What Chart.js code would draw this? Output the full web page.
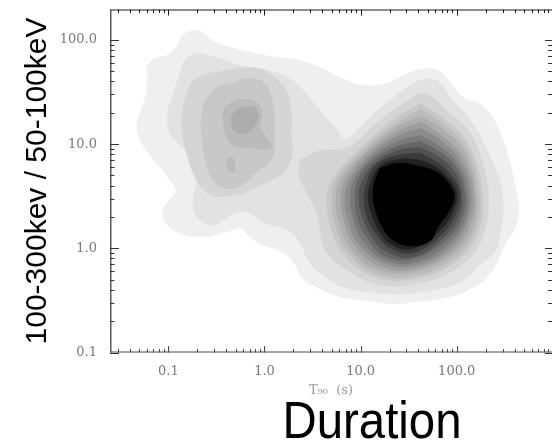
<!DOCTYPE html>
<html>
<head>
<meta charset="utf-8">
<script src="https://cdn.jsdelivr.net/npm/chart.js@4.4.1/dist/chart.umd.min.js"></script>
<style>
html,body{margin:0;padding:0;background:#fff;overflow:hidden}
canvas{display:block}
</style>
</head>
<body>
<canvas id="c" width="552" height="445"></canvas>
<script>
// ---------- axis data ----------
const T90_TICKS = [0.1, 1, 10, 100];
const T90_TICK_LABELS = ['0.1', '1.0', '10.0', '100.0'];
const RATIO_TICKS = [0.1, 1, 10, 100];
const RATIO_TICK_LABELS = ['0.1', '1.0', '10.0', '100.0'];
const T90_RANGE = [0.0247, 980];
const RATIO_RANGE = [0.1, 196];
const X_TITLE = 'T\u2089\u2080  (s)';
const Y_TITLE = '100-300kev / 50-100keV';
const FOOTER = 'Duration';

// ---------- density contours: [T90 (s), hardness ratio] ----------
const density_L1 = [[0.060,56.6],[0.0727,66],[0.0993,72.1],[0.123,87.8],[0.139,109],[0.177,122],[0.230,117],[0.292,95.9],[0.494,82.2],[1.06,70.5],[2.35,63.1],[3.98,53.0],[6.42,42.5],[11.1,36.4],[18.9,38.1],[30.5,47.5],[49.2,53.0],[67.2,49.6],[85.4,38.9],[117,28.0],[175,24.0],[228,18.8],[283,12.7],[335,8.17],[386,4.82],[436,2.60],[415,1.68],[319,1.08],[263,0.743],[207,0.534],[145,0.420],[85.4,0.344],[38.7,0.308],[21.8,0.295],[11.7,0.315],[6.12,0.344],[3.61,0.420],[2.46,0.523],[2.03,0.727],[1.45,0.946],[0.944,1.08],[0.708,1.29],[0.557,1.57],[0.408,1.44],[0.214,1.29],[0.117,1.47],[0.088,2.0],[0.0946,2.66],[0.120,3.54],[0.090,5.38],[0.066,7.65],[0.0507,11.1],[0.0472,15.8],[0.0532,22.0],[0.060,34.1]];
const density_L2 = [[0.199,75.3],[0.344,66.0],[0.628,55.3],[1.14,50.7],[1.85,42.5],[2.65,31.2],[3.79,20.8],[5.43,14.6],[6.90,11.2],[9.88,14.6],[14.9,21.0],[22.9,28.6],[35.2,38.1],[50.4,42.5],[67.2,38.9],[85.4,28.0],[119,20.4],[163,13.5],[217,7.82],[283,4.22],[304,2.33],[283,1.44],[257,0.968],[175,0.696],[119,0.50],[67.2,0.41],[25.8,0.368],[11.7,0.384],[6.12,0.438],[3.98,0.558],[2.84,0.777],[2.35,1.13],[1.72,1.50],[0.944,1.79],[0.669,2.23],[0.478,2.18],[0.292,1.68],[0.199,2.0],[0.181,2.90],[0.199,4.82],[0.157,8.17],[0.104,12.7],[0.0993,21.0],[0.112,29.2],[0.132,47.5],[0.153,66.0]];
// short-burst group
const short_L3 = [[0.160,32.6],[0.181,40.7],[0.241,46.4],[0.389,50.7],[0.628,54.1],[0.944,51.8],[1.29,43.5],[1.68,32.6],[1.89,21.0],[1.89,12.7],[1.94,8.17],[1.72,5.87],[1.29,4.72],[0.90,4.04],[0.628,3.46],[0.418,3.17],[0.285,3.24],[0.214,4.04],[0.176,5.62],[0.153,8.73],[0.139,13.5],[0.142,22.0]];
const short_L4 = [[0.241,26.2],[0.306,34.1],[0.460,38.9],[0.708,42.5],[0.990,38.9],[1.17,29.2],[1.26,18.8],[1.26,12.1],[1.26,8.35],[1.09,6.56],[0.858,5.62],[0.675,4.51],[0.494,3.78],[0.345,3.95],[0.272,5.04],[0.241,7.32],[0.224,11.4],[0.219,17.6]];
const short_L5 = [[0.380,22.5],[0.483,25.6],[0.659,26.8],[0.858,24.5],[0.944,19.7],[0.900,14.8],[1.04,11.6],[1.20,9.74],[1.09,8.92],[0.798,9.12],[0.557,9.32],[0.439,10.2],[0.389,13.0],[0.371,17.6]];
const short_L5_spot = [[0.418,7.48],[0.471,7.32],[0.494,6.14],[0.471,5.26],[0.428,5.62],[0.399,6.70]];
const short_L6 = [[0.449,18.0],[0.506,21.0],[0.628,22.5],[0.779,22.5],[0.858,19.7],[0.818,15.8],[0.691,13.3],[0.557,12.7],[0.471,14.2]];
// long-burst group
const long_L3 = [[2.35,7.00],[3.61,8.54],[6.12,8.91],[8.16,9.74],[12.6,14.1],[20.3,20.1],[32.7,26.8],[43.6,30.6],[58.2,27.4],[79.5,20.6],[108.5,16.5],[145,11.9],[179,7.31],[207,4.22],[212,2.44],[193,1.44],[155,0.926],[108.5,0.680],[67.2,0.534],[36.9,0.458],[21.3,0.438],[12.0,0.479],[7.78,0.596],[5.43,0.743],[4.17,1.01],[3.79,1.50],[3.45,2.28],[2.78,3.39],[2.29,5.04]];
const long_L4 = [[42.6,24.5],[74,17.3],[128,10.4],[179,4.04],[171,1.50],[101,0.76],[36,0.511],[13.2,0.546],[6.58,0.886],[4.93,1.57],[4.48,3.04],[5.18,4.71],[9.42,8.73],[22.8,17.6]];
const long_L5 = [[42.6,21.5],[72.2,15.5],[122,9.52],[167,3.95],[159,1.60],[96.2,0.811],[36,0.546],[13.8,0.583],[7.24,0.946],[5.56,1.60],[5.05,3.04],[5.7,4.71],[9.88,8.35],[23.4,15.8]];
const long_L6 = [[42.6,18.4],[70.5,13.9],[117,8.73],[155,3.87],[148,1.64],[91.8,0.886],[36,0.596],[14.5,0.637],[7.96,0.989],[6.12,1.68],[5.56,3.04],[6.27,4.61],[10.6,7.99],[23.4,14.5]];
const long_L7 = [[42.6,16.2],[68.8,12.1],[108.5,7.99],[148,3.87],[138,1.75],[87.4,0.946],[35.2,0.637],[15.6,0.68],[8.76,1.06],[6.9,1.71],[6.27,3.04],[7.07,4.61],[11.1,7.82],[24,13.0]];
const long_L8 = [[42.6,14.2],[67.2,10.9],[103,7.32],[138,3.78],[128,1.83],[83.4,1.01],[35.2,0.68],[16.3,0.743],[9.65,1.1],[7.59,1.79],[6.9,3.04],[7.78,4.51],[12,7.48],[24,11.9]];
const long_L9 = [[41.6,12.1],[64.1,9.74],[98.6,6.7],[128,3.7],[122,1.91],[79.5,1.08],[35.2,0.727],[17.1,0.794],[10.6,1.18],[8.56,1.83],[7.78,3.04],[8.56,4.51],[12.6,7.16],[24.5,10.6]];
const long_L10 = [[41.6,10.6],[62.5,8.73],[94,6.28],[120,3.62],[114,2.0],[75.7,1.18],[35.2,0.794],[18,0.848],[11.7,1.26],[9.42,1.87],[8.76,3.04],[9.42,4.51],[13.2,6.85],[24.5,9.52]];
const long_L11 = [[41.6,9.32],[61,7.82],[89.6,5.75],[111,3.54],[106,2.09],[72.2,1.26],[35.2,0.829],[18.9,0.926],[12.9,1.32],[10.6,1.96],[9.65,3.04],[10.4,4.41],[14.2,6.56],[25.2,8.73]];
const long_L12 = [[41.6,8.17],[59.6,6.85],[83.4,5.26],[106,3.54],[98.6,2.23],[68.8,1.35],[34.3,0.906],[20.3,1.01],[14.2,1.41],[11.7,2.0],[10.9,3.04],[11.7,4.41],[14.8,6.42],[25.2,7.82]];
const long_L13 = [[41.6,7.0],[58.2,6.14],[79.5,4.82],[98.6,3.47],[91.8,2.33],[65.6,1.47],[34.3,0.989],[21.3,1.08],[15.6,1.47],[13.2,2.09],[12,3.04],[12.9,4.32],[16,6.14],[25.8,7.16]];
const long_core = [[16,5.87],[24.5,6.56],[39.7,6.14],[62.5,5.38],[83.4,4.13],[94,3.04],[79.5,2.14],[62.5,1.57],[52.9,1.18],[34.3,1.056],[22.3,1.18],[17.1,1.57],[14.5,2.23],[13.5,3.24],[14.2,4.51]];

// contour level of each polygon (1 = outermost)
const LAYERS = [
  [1, density_L1], [2, density_L2],
  [3, short_L3], [3, long_L3],
  [4, short_L4], [4, long_L4],
  [5, short_L5], [5, short_L5_spot], [5, long_L5],
  [6, short_L6], [6, long_L6],
  [7, long_L7], [8, long_L8], [9, long_L9], [10, long_L10],
  [11, long_L11], [12, long_L12], [13, long_L13], [14, long_core]
];

// ---------- styles ----------
const SHADES = {1:'#efefef',2:'#e2e2e2',3:'#d5d5d5',4:'#c8c8c8',5:'#bbbbbb',6:'#adadad',7:'#9d9d9d',8:'#8c8c8c',9:'#7a7a7a',10:'#666666',11:'#515151',12:'#3a3a3a',13:'#212121',14:'#000000'};

const datasets = LAYERS.map(([lvl, pts], i) => ({
  label: 'level ' + lvl,
  data: pts.concat([pts[0]]).map(([x, y]) => ({x, y})),
  showLine: true,
  fill: 'shape',
  backgroundColor: SHADES[lvl],
  borderColor: SHADES[lvl],
  borderWidth: 0.8,
  pointRadius: 0,
  tension: 0.4,
  order: LAYERS.length - i
}));

function minorTicks(lo, hi) {
  const out = [];
  for (let d = 0.01; d <= 1000; d *= 10) {
    for (let m = 1; m < 10; m++) {
      const v = +(m * d).toPrecision(3);
      if (v >= lo && v <= hi) out.push(v);
    }
  }
  return out;
}

const framePlugin = {
  id: 'frame',
  afterDatasetsDraw(chart) {
    const {ctx, chartArea: a, scales: {x, y}} = chart;
    ctx.save();
    const xt = minorTicks(T90_RANGE[0], T90_RANGE[1]);
    const yt = minorTicks(RATIO_RANGE[0], RATIO_RANGE[1]);
    const isMajor = v => Math.abs(Math.log10(v) - Math.round(Math.log10(v))) < 1e-6;
    // top axis
    ctx.strokeStyle = '#1a1a1a'; ctx.lineWidth = 1;
    ctx.beginPath(); ctx.moveTo(a.left, a.top + 0.5); ctx.lineTo(a.right, a.top + 0.5); ctx.stroke();
    ctx.beginPath();
    xt.forEach(v => { const px = Math.round(x.getPixelForValue(v)) + 0.5; const l = isMajor(v) ? 6 : 3.5; ctx.moveTo(px, a.top); ctx.lineTo(px, a.top + l); });
    ctx.stroke();
    // bottom axis
    ctx.strokeStyle = '#4a4a4a';
    ctx.beginPath(); ctx.moveTo(a.left, a.bottom - 0.5); ctx.lineTo(a.right, a.bottom - 0.5); ctx.stroke();
    ctx.beginPath();
    xt.forEach(v => { const px = Math.round(x.getPixelForValue(v)) + 0.5; const l = isMajor(v) ? 6.5 : 3.5; ctx.moveTo(px, a.bottom); ctx.lineTo(px, a.bottom - l); });
    ctx.stroke();
    // left axis
    ctx.strokeStyle = '#5a5a5a'; ctx.lineWidth = 1.5;
    ctx.beginPath(); ctx.moveTo(a.left + 0.75, a.top); ctx.lineTo(a.left + 0.75, a.bottom); ctx.stroke();
    ctx.lineWidth = 1; ctx.strokeStyle = '#333';
    ctx.beginPath();
    yt.forEach(v => { const py = Math.round(y.getPixelForValue(v)) + 0.5; const l = isMajor(v) ? 9 : 4.5; ctx.moveTo(a.left, py); ctx.lineTo(a.left + l, py); });
    ctx.stroke();
    // right axis ticks
    ctx.strokeStyle = '#333';
    ctx.beginPath();
    yt.forEach(v => { const py = Math.round(y.getPixelForValue(v)) + 0.5; const l = isMajor(v) ? 7 : 4; ctx.moveTo(a.right, py); ctx.lineTo(a.right - l, py); });
    ctx.stroke();
    ctx.restore();
  },
  afterDraw(chart) {
    const ctx = chart.ctx;
    ctx.save();
    ctx.font = '52px "Liberation Sans", Arial, sans-serif';
    ctx.fillStyle = '#000';
    ctx.textAlign = 'center';
    ctx.textBaseline = 'alphabetic';
    const w = ctx.measureText(FOOTER).width;
    ctx.translate(372, 438);
    ctx.scale(179 / w, 1);
    ctx.fillText(FOOTER, 0, 0);
    ctx.restore();
  }
};

function clearPad(s) { s.paddingTop = 0; s.paddingBottom = 0; s.paddingLeft = 0; s.paddingRight = 0; }

new Chart(document.getElementById('c'), {
  type: 'scatter',
  data: {datasets},
  plugins: [framePlugin],
  options: {
    responsive: false,
    animation: false,
    events: [],
    layout: {padding: {top: 9.5, right: 0, left: 0, bottom: 0}},
    plugins: {legend: {display: false}, tooltip: {enabled: false}},
    scales: {
      x: {
        type: 'logarithmic', position: 'bottom',
        min: T90_RANGE[0], max: T90_RANGE[1],
        grid: {display: false, drawTicks: false}, border: {display: false},
        afterBuildTicks: s => { s.ticks = T90_TICKS.map(v => ({value: v})); },
        afterFit: s => { s.height = 92.5; clearPad(s); },
        ticks: {
          autoSkip: false, maxRotation: 0, padding: 11,
          color: '#7a7a7a', font: {family: '"DejaVu Serif"', size: 13},
          callback: v => { const i = T90_TICKS.indexOf(v); return i >= 0 ? T90_TICK_LABELS[i] : ''; }
        },
        title: {display: true, text: X_TITLE, color: '#9a9a9a', font: {family: '"DejaVu Serif"', size: 13}, padding: {top: 0, bottom: 47}}
      },
      y: {
        type: 'logarithmic', position: 'left',
        min: RATIO_RANGE[0], max: RATIO_RANGE[1],
        grid: {display: false, drawTicks: false}, border: {display: false},
        afterBuildTicks: s => { s.ticks = RATIO_TICKS.map(v => ({value: v})); },
        afterFit: s => { s.width = 110; clearPad(s); },
        ticks: {
          autoSkip: false, padding: 13,
          color: '#7a7a7a', font: {family: '"DejaVu Serif"', size: 13},
          callback: v => { const i = RATIO_TICKS.indexOf(v); return i >= 0 ? RATIO_TICK_LABELS[i] : ''; }
        },
        title: {display: true, text: Y_TITLE, color: '#000', font: {family: '"Liberation Sans"', size: 30}, padding: {top: 19.5, bottom: 0}}
      }
    }
  }
});
</script>
</body>
</html>
